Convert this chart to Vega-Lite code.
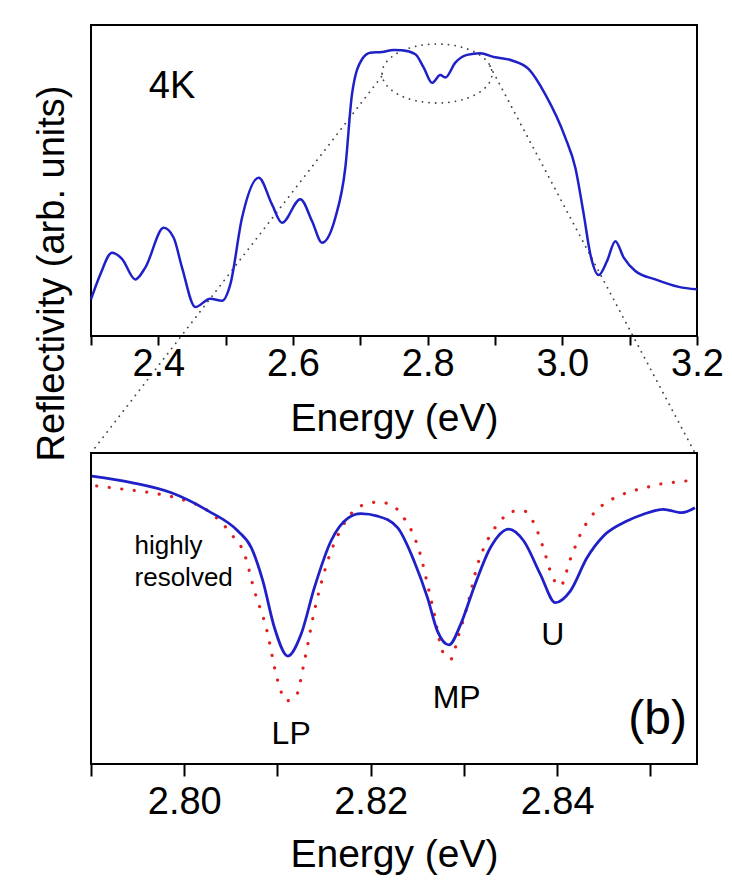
{
  "$schema": "https://vega.github.io/schema/vega-lite/v6.json",
  "background": "white",
  "padding": {"left": 31, "top": 24, "right": 5, "bottom": 5},
  "bounds": "flush",
  "spacing": 117,
  "config": {
    "view": {"stroke": "black", "strokeWidth": 2},
    "font": "Liberation Sans",
    "text": {"font": "Liberation Sans", "color": "black"},
    "axis": {
      "labelFont": "Liberation Sans",
      "titleFont": "Liberation Sans",
      "labelColor": "black",
      "titleColor": "black",
      "titleFontWeight": "normal",
      "grid": false,
      "domain": false,
      "tickColor": "black",
      "tickWidth": 2,
      "tickSize": 8
    }
  },
  "datasets": {
    "top": [
      {"energy": 2.300, "refl": 11.8}, {"energy": 2.3138, "refl": 19.8}, {"energy": 2.3312, "refl": 26.8},
      {"energy": 2.3460, "refl": 24.8}, {"energy": 2.3658, "refl": 18.2}, {"energy": 2.3806, "refl": 22.0},
      {"energy": 2.4080, "refl": 34.8}, {"energy": 2.4228, "refl": 31.6}, {"energy": 2.4352, "refl": 22.0},
      {"energy": 2.4549, "refl": 9.3}, {"energy": 2.4772, "refl": 12.0}, {"energy": 2.4946, "refl": 11.3},
      {"energy": 2.5069, "refl": 16.6}, {"energy": 2.5243, "refl": 38.0}, {"energy": 2.5491, "refl": 50.9},
      {"energy": 2.5688, "refl": 42.3}, {"energy": 2.5837, "refl": 36.4}, {"energy": 2.6109, "refl": 44.0},
      {"energy": 2.6282, "refl": 37.0}, {"energy": 2.6431, "refl": 30.0}, {"energy": 2.6628, "refl": 38.0},
      {"energy": 2.6777, "refl": 54.1}, {"energy": 2.6876, "refl": 77.7}, {"energy": 2.7025, "refl": 89.0},
      {"energy": 2.7148, "refl": 91.1}, {"energy": 2.7322, "refl": 91.3}, {"energy": 2.7496, "refl": 92.0},
      {"energy": 2.7619, "refl": 91.9}, {"energy": 2.7817, "refl": 90.6}, {"energy": 2.7941, "refl": 86.3},
      {"energy": 2.8065, "refl": 81.4}, {"energy": 2.8188, "refl": 83.9}, {"energy": 2.8262, "refl": 83.1},
      {"energy": 2.8411, "refl": 87.9}, {"energy": 2.8585, "refl": 90.4}, {"energy": 2.8782, "refl": 90.9},
      {"energy": 2.8981, "refl": 89.7}, {"energy": 2.9253, "refl": 88.6}, {"energy": 2.9501, "refl": 85.8},
      {"energy": 2.9747, "refl": 77.7}, {"energy": 3.0044, "refl": 63.8}, {"energy": 3.0193, "refl": 54.1},
      {"energy": 3.0318, "refl": 39.1}, {"energy": 3.0416, "refl": 26.3}, {"energy": 3.0540, "refl": 19.6},
      {"energy": 3.0664, "refl": 24.1}, {"energy": 3.0787, "refl": 30.5}, {"energy": 3.0912, "refl": 25.2},
      {"energy": 3.1084, "refl": 20.9}, {"energy": 3.1381, "refl": 18.2}, {"energy": 3.1729, "refl": 15.8},
      {"energy": 3.2000, "refl": 15.0}
    ],
    "connectors": [
      {"side": "left", "energy": 2.7322, "refl": 83.6},
      {"side": "left", "energy": 2.300, "refl": -37.6},
      {"side": "right", "energy": 2.8926, "refl": 86.8},
      {"side": "right", "energy": 3.197, "refl": -37.6}
    ],
    "ellipse": [{"energy": 2.8139, "refl": 84.4}],
    "blue": [
      {"energy": 2.7901, "refl": 92.6}, {"energy": 2.79435, "refl": 90.5}, {"energy": 2.79863, "refl": 87.2},
      {"energy": 2.80256, "refl": 81.4}, {"energy": 2.80576, "refl": 74.9}, {"energy": 2.80719, "refl": 69.6},
      {"energy": 2.80844, "refl": 58.8}, {"energy": 2.80968, "refl": 43.8}, {"energy": 2.81111, "refl": 34.7},
      {"energy": 2.81253, "refl": 41.7}, {"energy": 2.81396, "refl": 56.7}, {"energy": 2.81574, "refl": 71.7},
      {"energy": 2.81753, "refl": 79.0}, {"energy": 2.81895, "refl": 80.5}, {"energy": 2.82074, "refl": 79.7},
      {"energy": 2.82288, "refl": 76.0}, {"energy": 2.82465, "refl": 65.3}, {"energy": 2.82609, "refl": 53.5},
      {"energy": 2.82715, "refl": 42.8}, {"energy": 2.82840, "refl": 38.3}, {"energy": 2.82965, "refl": 44.9},
      {"energy": 2.83107, "refl": 56.7}, {"energy": 2.83285, "refl": 69.6}, {"energy": 2.83481, "refl": 75.5},
      {"energy": 2.83642, "refl": 71.7}, {"energy": 2.83820, "refl": 61.0}, {"energy": 2.83981, "refl": 51.9},
      {"energy": 2.84141, "refl": 55.6}, {"energy": 2.84320, "refl": 66.3}, {"energy": 2.84497, "refl": 73.3},
      {"energy": 2.84748, "refl": 78.1}, {"energy": 2.84925, "refl": 80.3}, {"energy": 2.85139, "refl": 81.9},
      {"energy": 2.85336, "refl": 80.8}, {"energy": 2.85478, "refl": 82.4}
    ],
    "red": [
      {"energy": 2.79061, "refl": 89.4}, {"energy": 2.79364, "refl": 88.3}, {"energy": 2.79649, "refl": 87.2},
      {"energy": 2.79970, "refl": 85.1}, {"energy": 2.80256, "refl": 81.4}, {"energy": 2.80505, "refl": 73.9},
      {"energy": 2.80647, "refl": 67.4}, {"energy": 2.80754, "refl": 55.6}, {"energy": 2.80879, "refl": 43.8},
      {"energy": 2.81004, "refl": 26.7}, {"energy": 2.81093, "refl": 20.3}, {"energy": 2.81200, "refl": 21.9},
      {"energy": 2.81289, "refl": 33.1}, {"energy": 2.81396, "refl": 49.2}, {"energy": 2.81539, "refl": 65.3},
      {"energy": 2.81681, "refl": 75.5}, {"energy": 2.81895, "refl": 83.0}, {"energy": 2.82074, "refl": 84.2},
      {"energy": 2.82216, "refl": 83.5}, {"energy": 2.82341, "refl": 79.7}, {"energy": 2.82430, "refl": 75.5},
      {"energy": 2.82537, "refl": 66.9}, {"energy": 2.82609, "refl": 57.8}, {"energy": 2.82679, "refl": 48.6},
      {"energy": 2.82769, "refl": 36.3}, {"energy": 2.82858, "refl": 33.7}, {"energy": 2.82946, "refl": 41.7},
      {"energy": 2.83036, "refl": 50.8}, {"energy": 2.83143, "refl": 63.7}, {"energy": 2.83267, "refl": 72.8},
      {"energy": 2.83392, "refl": 78.1}, {"energy": 2.83499, "refl": 81.1}, {"energy": 2.83642, "refl": 81.4},
      {"energy": 2.83749, "refl": 77.6}, {"energy": 2.83856, "refl": 69.0}, {"energy": 2.83945, "refl": 60.5},
      {"energy": 2.84034, "refl": 57.2}, {"energy": 2.84141, "refl": 65.8}, {"energy": 2.84266, "refl": 74.9},
      {"energy": 2.84355, "refl": 79.2}, {"energy": 2.84497, "refl": 83.5}, {"energy": 2.84641, "refl": 85.9},
      {"energy": 2.84783, "refl": 87.6}, {"energy": 2.84943, "refl": 88.8}, {"energy": 2.85086, "refl": 89.9},
      {"energy": 2.85229, "refl": 90.5}, {"energy": 2.85382, "refl": 91.0}
    ]
  },
  "vconcat": [
    {
      "width": 606,
      "height": 311,
      "encoding": {
        "x": {
          "field": "energy", "type": "quantitative",
          "scale": {"domain": [2.3, 3.2], "nice": false, "zero": false},
          "axis": {
            "title": "Energy (eV)",
            "values": [2.3, 2.4, 2.5, 2.6, 2.7, 2.8, 2.9, 3.0, 3.1, 3.2],
            "labelExpr": "round(datum.value*10)%2==0 ? format(datum.value,'.1f') : ''",
            "labelFontSize": 38, "titleFontSize": 39,
            "tickSize": 9,
            "labelPadding": 0, "titlePadding": 16,
            "labelFlush": false, "labelOverlap": false
          }
        },
        "y": {
          "field": "refl", "type": "quantitative",
          "scale": {"domain": [0, 100], "nice": false, "zero": false},
          "axis": {
            "title": "Reflectivity (arb. units)",
            "labels": false, "ticks": false,
            "titleFontSize": 38,
            "titleX": -28, "titleY": 248,
            "titleAngle": 270, "titleAlign": "center", "titleBaseline": "alphabetic"
          }
        }
      },
      "layer": [
        {
          "data": {"name": "connectors"},
          "mark": {"type": "line", "clip": false, "color": "#444444", "strokeWidth": 1.8, "strokeCap": "round", "strokeDash": [0.1, 6.5]},
          "encoding": {"detail": {"field": "side"}}
        },
        {
          "data": {"name": "ellipse"},
          "mark": {
            "type": "point", "clip": false, "filled": false, "opacity": 1,
            "shape": "M-1,0 C-1,-0.296 -0.552,-0.536 0,-0.536 C0.552,-0.536 1,-0.296 1,0 C1,0.296 0.552,0.536 0,0.536 C-0.552,0.536 -1,0.296 -1,0 Z",
            "size": 12100, "stroke": "#444444", "strokeWidth": 1.8, "strokeCap": "round", "strokeDash": [0.1, 6.5]
          }
        },
        {
          "data": {"name": "top"},
          "mark": {"type": "line", "color": "#2020c8", "strokeWidth": 2.5, "interpolate": "monotone"}
        },
        {
          "data": {"values": [{"energy": 2.4203, "refl": 76.5, "label": "4K"}]},
          "mark": {"type": "text", "fontSize": 38, "align": "center", "baseline": "alphabetic"},
          "encoding": {"text": {"field": "label"}}
        }
      ]
    },
    {
      "width": 606,
      "height": 311,
      "encoding": {
        "x": {
          "field": "energy", "type": "quantitative",
          "scale": {"domain": [2.79, 2.855], "nice": false, "zero": false},
          "axis": {
            "title": "Energy (eV)",
            "values": [2.79, 2.8, 2.81, 2.82, 2.83, 2.84, 2.85],
            "labelExpr": "round(datum.value*100)%2==0 ? format(datum.value,'.2f') : ''",
            "labelFontSize": 38, "titleFontSize": 39,
            "tickSize": 12,
            "labelPadding": 7, "titlePadding": 14,
            "labelFlush": false, "labelOverlap": false
          }
        },
        "y": {
          "field": "refl", "type": "quantitative",
          "scale": {"domain": [0, 100], "nice": false, "zero": false},
          "axis": {"title": null, "labels": false, "ticks": false}
        }
      },
      "layer": [
        {
          "data": {"name": "red"},
          "mark": {"type": "line", "color": "#e02020", "strokeWidth": 3.2, "strokeCap": "round", "strokeDash": [0.1, 12.5], "interpolate": "monotone"}
        },
        {
          "data": {"name": "blue"},
          "mark": {"type": "line", "color": "#2020c8", "strokeWidth": 2.8, "interpolate": "monotone"}
        },
        {
          "data": {"values": [
            {"energy": 2.79467, "refl": 67.5, "label": "highly"},
            {"energy": 2.79467, "refl": 57.2, "label": "resolved"}
          ]},
          "mark": {"type": "text", "fontSize": 26, "align": "left", "baseline": "alphabetic"},
          "encoding": {"text": {"field": "label"}}
        },
        {
          "data": {"values": [
            {"energy": 2.81147, "refl": 6.4, "label": "LP"},
            {"energy": 2.82922, "refl": 18.0, "label": "MP"},
            {"energy": 2.83954, "refl": 38.3, "label": "U"}
          ]},
          "mark": {"type": "text", "fontSize": 32, "align": "center", "baseline": "alphabetic"},
          "encoding": {"text": {"field": "label"}}
        },
        {
          "data": {"values": [{"energy": 2.85392, "refl": 9.6, "label": "(b)"}]},
          "mark": {"type": "text", "fontSize": 48, "align": "right", "baseline": "alphabetic"},
          "encoding": {"text": {"field": "label"}}
        }
      ]
    }
  ]
}
